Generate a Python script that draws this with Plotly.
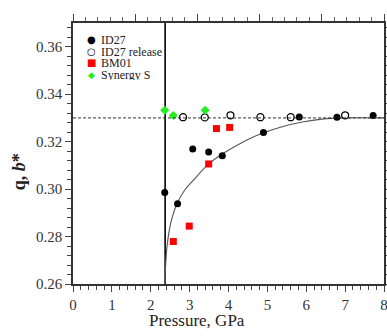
import plotly.graph_objects as go

# ---------------- data ----------------
id27_p = [2.36, 2.69, 3.08, 3.49, 3.84, 4.90, 5.82, 6.79, 7.72]
id27_q = [0.2986, 0.2938, 0.3169, 0.3156, 0.3140, 0.3239, 0.3304, 0.3303, 0.3310]

rel_p = [2.83, 3.39, 4.05, 4.82, 5.60, 7.00]
rel_q = [0.3303, 0.3302, 0.3311, 0.3303, 0.3303, 0.3311]

bm01_p = [2.58, 2.99, 3.49, 3.69, 4.03]
bm01_q = [0.2779, 0.2844, 0.3106, 0.3255, 0.3260]

syn_p = [2.36, 2.58, 3.40]
syn_q = [0.3332, 0.3310, 0.3332]

# fitted curve
fit_p = [2.37, 2.372, 2.378, 2.39, 2.42, 2.47, 2.55, 2.68, 2.87, 3.11, 3.49,
         3.84, 4.2, 4.54, 4.90, 5.40, 5.9, 6.4, 7.0, 8.0]
fit_q = [0.260, 0.263, 0.266, 0.270, 0.276, 0.282, 0.288, 0.294, 0.2995, 0.304, 0.3106,
         0.3148, 0.3183, 0.3212, 0.3237, 0.3264, 0.3283, 0.3295, 0.3300, 0.3300]

# reference lines
PC = 2.37          # critical pressure (vertical line)
Q_SAT = 0.330      # saturation value (dashed line)

X_RANGE = [0, 8]
Y_RANGE = [0.26, 0.37]

legend_names = ["ID27", "ID27 release", "BM01", "Synergy S"]

FONT = "Liberation Serif, Times New Roman, serif"

fig = go.Figure()

# vertical solid line
fig.add_trace(go.Scatter(x=[PC, PC], y=Y_RANGE, mode="lines",
                         line=dict(color="black", width=1.6), showlegend=False, hoverinfo="skip"))
# horizontal dashed line (on overlay axes, same ranges)
fig.add_trace(go.Scatter(x=X_RANGE, y=[Q_SAT, Q_SAT], mode="lines", xaxis="x2", yaxis="y2",
                         line=dict(color="#333333", width=1, dash="3px,2px"),
                         showlegend=False, hoverinfo="skip"))
# fitted curve
fig.add_trace(go.Scatter(x=fit_p, y=fit_q, mode="lines",
                         line=dict(color="#555555", width=1.1, shape="spline", smoothing=0.8),
                         showlegend=False, hoverinfo="skip"))

fig.add_trace(go.Scatter(x=id27_p, y=id27_q, mode="markers", name=legend_names[0],
                         marker=dict(symbol="circle", size=7, color="black"), showlegend=False))
fig.add_trace(go.Scatter(x=rel_p, y=rel_q, mode="markers", name=legend_names[1],
                         marker=dict(symbol="circle", size=7, color="white",
                                     line=dict(color="black", width=1.3)), showlegend=False))
fig.add_trace(go.Scatter(x=bm01_p, y=bm01_q, mode="markers", name=legend_names[2],
                         marker=dict(symbol="square", size=7, color="#ff0000"), showlegend=False))
fig.add_trace(go.Scatter(x=syn_p, y=syn_q, mode="markers", name=legend_names[3],
                         marker=dict(symbol="diamond", size=7, color="#22ee22"), showlegend=False))

# manual legend (compact, like the reference)
leg_syms = [("●", "black", 10), ("○", "black", 10), ("■", "#ff0000", 10), ("◆", "#22ee22", 9)]
leg_y = [0.935, 0.891, 0.847, 0.801]
for (sym, col, sz), name, yy in zip(leg_syms, legend_names, leg_y):
    fig.add_annotation(x=0.060, y=yy, xref="paper", yref="paper", text=sym, showarrow=False,
                       font=dict(family="DejaVu Sans", size=sz, color=col), xanchor="center",
                       yanchor="middle", height=11)
    fig.add_annotation(x=0.083, y=yy, xref="paper", yref="paper", text=name, showarrow=False,
                       font=dict(family=FONT, size=12, color="#222"), xanchor="left",
                       yanchor="middle", height=11)

# axis titles
fig.add_annotation(x=0.40, y=-0.14, xref="paper", yref="paper", text="Pressure, GPa", showarrow=False,
                   font=dict(family=FONT, size=17, color="#222"), xanchor="center", yanchor="middle")
fig.add_annotation(x=-0.175, y=0.43, xref="paper", yref="paper", text="<b>q, <i>b</i>*</b>", showarrow=False,
                   textangle=-90, font=dict(family=FONT, size=18, color="#222"),
                   xanchor="center", yanchor="middle")

axis_common = dict(showgrid=False, zeroline=False, showline=True, linecolor="#333", linewidth=1.5,
                   ticks="outside", tickcolor="#444", tickwidth=1, automargin=False)

fig.update_layout(
    width=387, height=336,
    margin=dict(l=73, r=3, t=23, b=52),
    paper_bgcolor="white", plot_bgcolor="white",
    font=dict(family=FONT, size=14, color="#333"),
    showlegend=False,
    xaxis=dict(range=X_RANGE, tickmode="linear", tick0=0, dtick=1, ticklen=6, ticklabeloverflow="allow",
               minor=dict(dtick=0.2, ticklen=4, ticks="outside", tickcolor="#444"),
               tickfont=dict(family=FONT, size=15, color="#333"), **axis_common),
    yaxis=dict(range=Y_RANGE, tickmode="linear", tick0=0.26, dtick=0.02, ticklen=6, tickformat=".2f",
               minor=dict(dtick=0.004, ticklen=4, ticks="outside", tickcolor="#444"),
               tickfont=dict(family=FONT, size=15, color="#333"), **axis_common),
    xaxis2=dict(range=X_RANGE, overlaying="x", side="top", tickmode="linear", tick0=0, dtick=1.6,
                ticklen=7, showticklabels=False,
                minor=dict(dtick=0.32, ticklen=4, ticks="outside", tickcolor="#666"), **axis_common),
    yaxis2=dict(range=Y_RANGE, overlaying="y", side="right", tickmode="linear", tick0=0.26, dtick=0.004,
                ticklen=3, showticklabels=False, **axis_common),
)

fig.write_html("out.html", config={"displayModeBar": False},
               post_script="document.body.style.margin='0';document.body.style.overflow='hidden';")
